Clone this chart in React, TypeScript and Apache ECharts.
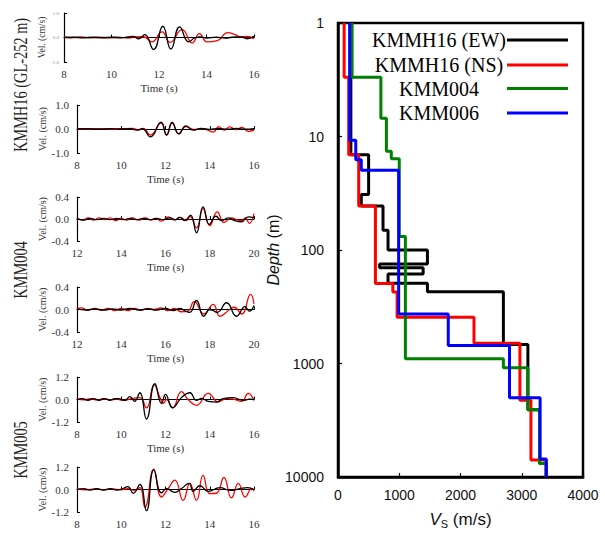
import React, { useEffect, useRef } from "react";
import * as echarts from "echarts";

// ---------- Left: velocity waveforms [time (s), vel (cm/s)] ----------
const p1Black = [[8,0],[8.4,0.01],[8.8,-0.01],[9.2,0.01],[9.6,-0.01],[10.0,0.01],[10.4,-0.01],[10.7,0.02],[10.9,0.04],[11.15,-0.05],[11.4,0.12],[11.77,-0.49],[12.16,0.46],[12.5,-0.47],[12.87,0.43],[13.25,-0.18],[13.5,-0.02],[13.75,0.02],[14.0,-0.02],[14.4,0.01],[14.8,-0.02],[15.2,0.02],[15.5,0.01],[15.7,-0.05],[16,0.05]];
const p1Red = [[8,0.02],[8.3,-0.01],[8.7,0.02],[9.1,-0.01],[9.5,0.01],[9.9,-0.01],[10.3,0.01],[10.7,-0.02],[11.0,0.02],[11.35,0.03],[11.7,-0.18],[12.13,0.23],[12.47,-0.2],[12.97,0.32],[13.4,-0.22],[13.7,0.16],[14.02,-0.18],[14.45,-0.13],[14.9,0.2],[15.2,0.12],[15.45,0.03],[15.7,0.04],[16,-0.05]];

const p2Black = [[8,0],[8.5,0.01],[9,-0.01],[9.5,0.01],[10,0],[10.4,0.01],[10.7,-0.05],[10.95,0.01],[11.32,-0.33],[11.8,0.29],[12.05,-0.25],[12.3,0.27],[12.6,-0.2],[12.92,0.13],[13.25,-0.05],[13.6,0.02],[14.0,-0.02],[14.4,0.02],[14.8,-0.01],[15.2,0.02],[15.6,-0.01],[16,0.02]];
const p2Red = [[8,0.01],[8.5,-0.01],[9,0.01],[9.5,-0.01],[10,0.01],[10.5,0.02],[10.8,-0.03],[11.0,0.02],[11.32,-0.25],[11.8,0.25],[12.05,-0.25],[12.3,0.25],[12.6,-0.2],[12.92,0.1],[13.3,-0.02],[13.7,0.01],[14.16,-0.13],[14.4,0.1],[14.65,-0.05],[14.9,0.09],[15.2,-0.03],[15.45,0.07],[15.75,-0.1],[16,-0.05]];

const p3Black = [[12,0.01],[12.3,-0.02],[12.6,0.01],[12.9,-0.01],[13.2,0.01],[13.5,-0.01],[13.8,0.01],[14.1,-0.01],[14.4,0.01],[14.7,-0.01],[15.0,0.01],[15.3,-0.01],[15.6,0.01],[15.9,-0.01],[16.2,0.02],[16.45,-0.01],[16.65,0.03],[16.87,-0.03],[17.13,0.07],[17.4,-0.25],[17.7,0.22],[17.98,-0.1],[18.28,0.05],[18.54,-0.03],[18.84,0.02],[19.14,-0.03],[19.44,-0.05],[19.74,0.04],[20,0.02]];
const p3Red = [[12,0.01],[12.25,-0.02],[12.5,0.02],[12.75,-0.02],[13.0,0.02],[13.25,-0.01],[13.5,0.02],[13.75,-0.03],[14.0,0.01],[14.25,-0.02],[14.5,0.02],[14.8,-0.02],[15.1,0.02],[15.35,-0.02],[15.55,0.01],[15.82,-0.04],[16.12,0.04],[16.4,-0.02],[16.65,0.03],[16.95,-0.03],[17.1,0.05],[17.4,-0.16],[17.7,0.19],[18.0,-0.12],[18.34,0.13],[18.64,-0.06],[18.99,0.02],[19.2,-0.01],[19.44,-0.03],[19.6,0.02],[19.79,-0.08],[20,0.1]];

const p4Black = [[12,0.01],[12.4,-0.01],[12.8,0.01],[13.2,-0.01],[13.6,0.01],[14.0,-0.01],[14.4,0.02],[14.8,-0.01],[15.2,0.01],[15.6,-0.01],[16.0,0.02],[16.35,-0.02],[16.65,0.02],[16.9,-0.03],[17.1,-0.05],[17.4,0.16],[17.73,-0.12],[18.0,0.0],[18.16,-0.02],[18.34,-0.05],[18.76,0.12],[19.21,-0.12],[19.6,0.05],[19.79,-0.03],[20,0.07]];
const p4Red = [[12,0.02],[12.2,0.03],[12.5,-0.01],[12.8,0.02],[13.1,-0.01],[13.4,0.02],[13.7,-0.02],[14.0,0.02],[14.3,-0.02],[14.6,0.02],[14.9,-0.01],[15.2,0.02],[15.5,0.0],[15.8,0.03],[16.1,-0.02],[16.4,0.02],[16.7,-0.04],[17.0,-0.03],[17.3,0.14],[17.73,-0.08],[18.16,0.09],[18.46,-0.12],[18.9,0.0],[19.1,0.04],[19.44,-0.08],[19.85,0.27],[20,0.1]];

const p5Black = [[8,0],[8.25,0.05],[8.5,-0.04],[8.75,0.05],[9.0,-0.04],[9.25,0.05],[9.5,-0.04],[9.7,0.04],[9.86,0.05],[10.16,-0.05],[10.39,0.15],[10.6,-0.1],[10.84,0.36],[11.14,-1.04],[11.52,0.84],[11.82,-0.22],[12.0,0.27],[12.32,-0.44],[12.72,0.1],[13.1,0.36],[13.4,-0.05],[13.63,0.06],[13.93,-0.1],[14.3,-0.14],[14.6,0.05],[15.06,0.1],[15.5,-0.05],[15.8,0.02],[16,0]];
const p5Red = [[8,0.02],[8.3,-0.02],[8.6,0.04],[8.9,-0.02],[9.2,0.04],[9.5,-0.03],[9.8,0.02],[10.1,-0.05],[10.45,0.05],[10.84,0.1],[11.14,-0.45],[11.49,0.78],[11.75,0.1],[11.9,-0.2],[12.05,0.0],[12.32,-0.44],[12.72,0.42],[13.02,0.0],[13.4,-0.31],[13.93,0.33],[14.39,-0.13],[14.76,0.05],[15.06,0.02],[15.44,-0.1],[15.74,0.33],[16,-0.05]];

const p6Black = [[8,0],[8.3,0.05],[8.6,-0.03],[8.9,0.04],[9.2,-0.03],[9.5,0.04],[9.8,-0.03],[10.05,0.04],[10.3,0.15],[10.54,-0.2],[10.84,0.27],[11.14,-1.13],[11.47,1.05],[11.82,-0.18],[12.05,0.05],[12.42,-0.15],[12.72,0.05],[13.07,0.33],[13.25,-0.1],[13.55,0.2],[13.93,-0.1],[14.46,0.1],[14.92,-0.05],[15.37,0.05],[15.7,0.1],[16,0]];
const p6Red = [[8,0.02],[8.4,-0.02],[8.8,0.03],[9.2,-0.02],[9.6,0.03],[10.0,-0.02],[10.3,0.05],[10.6,-0.05],[10.84,0.1],[11.07,-0.95],[11.47,1.09],[11.82,-0.4],[12.12,0.05],[12.42,0.5],[12.8,-0.58],[13.1,0.33],[13.4,-0.58],[13.7,0.75],[14.0,-0.22],[14.3,-0.2],[14.64,0.64],[14.98,-0.45],[15.29,0.33],[15.6,-0.4],[15.9,0.05],[16,-0.1]];

// ---------- Right: Vs profiles (layer Vs in m/s, layer bottom depth in m) ----------
const ewVs = [210, 500, 380, 735, 817, 1460, 680, 1390, 817, 1460, 2700, 3100, 3290, 3400];
const ewBottom = [14.5, 32.5, 41, 67, 100, 133, 143, 163, 196, 233, 680, 2550, 7600, 10000];
const nsVs = [100, 175, 338, 611, 895, 965, 2220, 2970, 3150, 3400];
const nsBottom = [3.0, 14.5, 41, 197, 235, 392, 662, 2110, 7090, 10000];
const k004Vs = [230, 700, 790, 870, 1000, 1100, 2700, 3100, 3290, 3400];
const k004Bottom = [3.0, 6.9, 13.5, 15.7, 76, 910, 1090, 2550, 7600, 10000];
const k006Vs = [190, 290, 380, 990, 1800, 2800, 3300, 3400];
const k006Bottom = [10.8, 16, 19.8, 366, 695, 2000, 6950, 10000];

const profileNames = ["KMMH16 (EW)", "KMMH16 (NS)", "KMM004", "KMM006"];
const profileColors = ["#000000", "#ff0000", "#008000", "#0000ff"];

const stationLabels = ["KMMH16 (GL-252 m)", "KMM004", "KMM005"];
const vsTicks = [0, 1000, 2000, 3000, 4000];

const SERIF = '"Liberation Serif", "Times New Roman", serif';
const SANS = '"Liberation Sans", Arial, sans-serif';

export default function App() {
  const ref = useRef<HTMLDivElement>(null);
  useEffect(() => {
    if (!ref.current) return;
    const chart = echarts.init(ref.current, null, { renderer: "svg" });

    const panels = [
      { b: p1Black, r: p1Red, left: 64, top: 13, w: 190, h: 49, xmin: 8, xmax: 16, ymax: 1.0, tiny: true, timeName: true },
      { b: p2Black, r: p2Red, left: 77, top: 105, w: 177, h: 48, xmin: 8, xmax: 16, ymax: 1.0, tiny: false, timeName: true },
      { b: p3Black, r: p3Red, left: 77, top: 197, w: 177, h: 44, xmin: 12, xmax: 20, ymax: 0.4, tiny: false, timeName: true },
      { b: p4Black, r: p4Red, left: 77, top: 287, w: 177, h: 45, xmin: 12, xmax: 20, ymax: 0.4, tiny: false, timeName: true },
      { b: p5Black, r: p5Red, left: 77, top: 377, w: 177, h: 45, xmin: 8, xmax: 16, ymax: 1.2, tiny: false, timeName: true },
      { b: p6Black, r: p6Red, left: 77, top: 467, w: 177, h: 45, xmin: 8, xmax: 16, ymax: 1.2, tiny: false, timeName: false },
    ];

    const grids: any[] = [];
    const xAxes: any[] = [];
    const yAxes: any[] = [];
    const series: any[] = [];
    const labelColor = "#333";

    panels.forEach((p, i) => {
      grids.push({ left: p.left, top: p.top, width: p.w, height: p.h, containLabel: false });
      xAxes.push({
        type: "value", gridIndex: i, min: p.xmin, max: p.xmax, interval: 2,
        name: p.timeName ? "Time (s)" : "", nameLocation: "middle", nameGap: 20,
        nameTextStyle: { fontFamily: SERIF, fontSize: 11, color: labelColor },
        axisLine: { show: true, lineStyle: { color: "#000", width: 1.2 } },
        axisTick: { show: true, inside: true, length: 3, lineStyle: { color: "#000" } },
        axisLabel: { fontFamily: SERIF, fontSize: 11, color: labelColor, margin: 6 },
        splitLine: { show: false },
      });
      yAxes.push({
        type: "value", gridIndex: i, min: -p.ymax, max: p.ymax, interval: p.ymax,
        name: "Vel. (cm/s)", nameLocation: "middle", nameGap: p.tiny ? 15 : 29,
        nameTextStyle: { fontFamily: SERIF, fontSize: p.tiny ? 9.5 : 10, color: labelColor },
        axisLine: { show: true, lineStyle: { color: "#000", width: 1.2 } },
        axisTick: { show: true, inside: true, length: 3, lineStyle: { color: "#000" } },
        axisLabel: {
          fontFamily: SERIF, fontSize: p.tiny ? 5 : 11, color: p.tiny ? "#888" : labelColor,
          margin: p.tiny ? 5 : 8,
          formatter: (v: number) => v.toFixed(1),
        },
        splitLine: { show: false },
      });
      series.push({
        type: "line", xAxisIndex: i, yAxisIndex: i, data: p.r, smooth: 0.5,
        showSymbol: false, lineStyle: { color: "#ff0000", width: 1.3 }, itemStyle: { color: "#ff0000" },
      });
      series.push({
        type: "line", xAxisIndex: i, yAxisIndex: i, data: p.b, smooth: 0.5,
        showSymbol: false, lineStyle: { color: "#000000", width: 1.3 }, itemStyle: { color: "#000000" },
      });
    });

    // Right-hand Vs profile grid
    const ri = panels.length;
    grids.push({ left: 338, top: 23, width: 245, height: 456, show: true, borderColor: "#000", borderWidth: 2.5, backgroundColor: "transparent" });
    xAxes.push({
      type: "value", gridIndex: ri, min: vsTicks[0], max: vsTicks[vsTicks.length - 1], interval: 1000,
      name: "{i|V}{s|S}{n| (m/s)}", nameLocation: "middle", nameGap: 33,
      nameTextStyle: {
        fontFamily: SANS, fontSize: 17, color: "#111",
        rich: {
          i: { fontFamily: SANS, fontSize: 17, fontStyle: "italic", color: "#111" },
          s: { fontFamily: SANS, fontSize: 11, color: "#111", verticalAlign: "bottom", padding: [8, 0, 0, 0] },
          n: { fontFamily: SANS, fontSize: 17, color: "#111" },
        },
      },
      axisLine: { show: true, lineStyle: { color: "#000", width: 2.5 } },
      axisTick: { show: true, inside: true, length: 4, lineStyle: { color: "#000", width: 1.2 } },
      axisLabel: { fontFamily: SANS, fontSize: 14, color: "#111", margin: 11, formatter: (v: number) => String(v) },
      splitLine: { show: false },
    });
    yAxes.push({
      type: "log", logBase: 10, gridIndex: ri, min: 1, max: 10000, inverse: true,
      name: "{i|Depth}{n| (m)}", nameLocation: "middle", nameGap: 37,
      nameTextStyle: {
        fontFamily: SANS, fontSize: 16, color: "#111",
        rich: {
          i: { fontFamily: SANS, fontSize: 16, fontStyle: "italic", color: "#111" },
          n: { fontFamily: SANS, fontSize: 16, color: "#111" },
        },
      },
      axisLine: { show: true, lineStyle: { color: "#000", width: 2.5 } },
      axisTick: { show: true, inside: true, length: 4, lineStyle: { color: "#000", width: 1.2 } },
      axisLabel: { fontFamily: SANS, fontSize: 14, color: "#111", margin: 14, formatter: (v: number) => String(Math.round(v)) },
      splitLine: { show: false },
      minorTick: { show: false },
    });

    const profiles = [
      [ewVs, ewBottom],
      [nsVs, nsBottom],
      [k004Vs, k004Bottom],
      [k006Vs, k006Bottom],
    ];
    profiles.forEach(([vs, bottoms], k) => {
      const pts: number[][] = [];
      let top = 1;
      vs.forEach((v, j) => {
        pts.push([v, top]);
        pts.push([v, bottoms[j]]);
        top = bottoms[j];
      });
      series.push({
        type: "line", name: profileNames[k], xAxisIndex: ri, yAxisIndex: ri, data: pts,
        showSymbol: false, lineStyle: { color: profileColors[k], width: 3 }, itemStyle: { color: profileColors[k] },
      });
    });

    const legendRows = [40, 65, 88.5, 113];
    const graphic: any[] = [];
    profileNames.forEach((n, k) => {
      graphic.push({
        type: "text", x: 439, y: legendRows[k],
        style: { text: n, font: `20px ${SERIF}`, fill: "#000", textAlign: "center", textVerticalAlign: "middle" },
      });
      graphic.push({
        type: "line", shape: { x1: 507, y1: legendRows[k], x2: 568, y2: legendRows[k] },
        style: { stroke: profileColors[k], lineWidth: 3 },
      });
    });
    const stationPos = [[21, 85], [21, 270], [21, 450]];
    stationLabels.forEach((s, k) => {
      graphic.push({
        type: "text", x: stationPos[k][0], y: stationPos[k][1], rotation: Math.PI / 2, scaleX: 0.8,
        style: { text: s, font: `18px ${SERIF}`, fill: "#222", textAlign: "center", textVerticalAlign: "middle" },
      });
    });

    chart.setOption({
      animation: false,
      backgroundColor: "#fff",
      grid: grids,
      xAxis: xAxes,
      yAxis: yAxes,
      series,
      graphic,
    });
    return () => chart.dispose();
  }, []);
  return <div ref={ref} style={{ position: "fixed", left: 0, top: 0, width: 605, height: 534 }} />;
}
